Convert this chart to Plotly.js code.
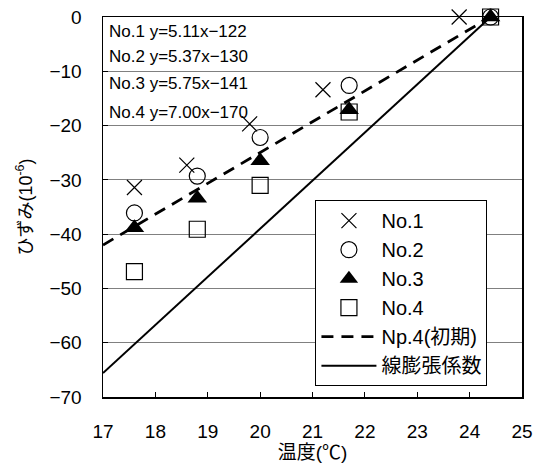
<!DOCTYPE html>
<html>
<head>
<meta charset="utf-8">
<script src="https://cdn.plot.ly/plotly-3.0.1.min.js"></script>
<style>html,body{margin:0;padding:0;background:#fff;}#chart{width:533px;height:463px;}</style>
</head>
<body>
<div id="chart"></div>
<script>
// Data
const no1X = [17.6, 18.6, 19.8, 21.2, 23.8];
const no1Y = [-31.4, -27.3, -19.7, -13.4, 0];
const no2X = [17.6, 18.8, 20.0, 21.7, 24.4];
const no2Y = [-36.1, -29.3, -22.2, -12.6, 0];
const no3X = [17.6, 18.8, 20.0, 21.7, 24.4];
const no3Y = [-38.8, -33.4, -26.5, -17.1, 0];
const no4X = [17.6, 18.8, 20.0, 21.7, 24.4];
const no4Y = [-46.9, -39.1, -31.0, -17.5, 0];
const np4X = [17.0, 24.4];
const np4Y = [-42.0, 0];
const expX = [17.0, 24.4];
const expY = [-65.6, 0];
const seriesNames = ['No.1', 'No.2', 'No.3', 'No.4', 'Np.4(初期)', '線膨張係数'];
const equations = ['No.1 y=5.11x−122', 'No.2 y=5.37x−130', 'No.3 y=5.75x−141', 'No.4 y=7.00x−170'];
const xTicks = [17, 18, 19, 20, 21, 22, 23, 24, 25];
const yTicks = [0, -10, -20, -30, -40, -50, -60, -70];

const FONT = '"Liberation Sans", Arial, "Noto Sans CJK JP", sans-serif';

const traces = [
  {x: no1X, y: no1Y, name: seriesNames[0], mode: 'markers', legendgroup: 'a', legendrank: 1, cliponaxis: false,
   marker: {symbol: 'x-thin-open', size: 15, color: '#000', line: {width: 1.2, color: '#000'}}},
  {x: no2X, y: no2Y, name: seriesNames[1], mode: 'markers', legendgroup: 'b', legendrank: 2, cliponaxis: false,
   marker: {symbol: 'circle-open', size: 16, color: '#000', line: {width: 1.2, color: '#000'}}},
  {x: no4X, y: no4Y, name: seriesNames[3], mode: 'markers', legendgroup: 'd', legendrank: 4, cliponaxis: false,
   marker: {symbol: 'square-open', size: 16, color: '#000', line: {width: 1.2, color: '#000'}}},
  {x: np4X, y: np4Y, name: seriesNames[4], mode: 'lines', legendgroup: 'e', legendrank: 5,
   line: {color: '#000', width: 2.8, dash: '12px,8px'}},
  {x: expX, y: expY, name: seriesNames[5], mode: 'lines', legendgroup: 'f', legendrank: 6,
   line: {color: '#000', width: 2}},
  {x: no3X, y: no3Y, name: seriesNames[2], mode: 'markers', legendgroup: 'c', legendrank: 3, cliponaxis: false,
   marker: {symbol: 'triangle-up', size: 17, color: '#000', line: {width: 0}}}
];

const annotations = equations.map((t, i) => ({
  text: t, xref: 'paper', yref: 'paper', x: 0.01, y: [0.961, 0.895, 0.826, 0.75][i],
  xanchor: 'left', yanchor: 'middle', showarrow: false,
  font: {family: FONT, size: 17, color: '#000'}
}));

const layout = {
  width: 533, height: 463,
  margin: {l: 103, r: 11, t: 17, b: 66},
  paper_bgcolor: '#fff', plot_bgcolor: '#fff',
  font: {family: FONT, color: '#000'},
  showlegend: true,
  legend: {
    x: 0.507, y: 0.518, xanchor: 'left', yanchor: 'top',
    bgcolor: '#fff', bordercolor: '#000', borderwidth: 1,
    font: {family: FONT, size: 20, color: '#000'},
    tracegroupgap: 3, traceorder: 'normal', itemwidth: 55
  },
  xaxis: {
    range: [17, 25], tickvals: xTicks, ticktext: xTicks.map(String),
    showgrid: false, zeroline: false, showline: true, mirror: true,
    linecolor: '#000', linewidth: 1.5, ticks: 'inside', ticklen: 5, tickcolor: '#000',
    tickfont: {family: FONT, size: 19, color: '#000'}, ticklabelstandoff: 17,
    title: {text: '温度(℃)', font: {family: FONT, size: 19, color: '#000'}, standoff: 7}
  },
  yaxis: {
    range: [-70, 0], tickvals: yTicks, ticktext: yTicks.map(v => v < 0 ? '−' + (-v) : String(v)),
    showgrid: true, gridcolor: '#808080', gridwidth: 1, zeroline: false,
    showline: true, mirror: true, linecolor: '#000', linewidth: 1.5,
    ticks: 'inside', ticklen: 5, tickcolor: '#000',
    tickfont: {family: FONT, size: 19, color: '#000'}, ticklabelstandoff: 16,
    title: {text: 'ひずみ(10<sup>-6</sup>)', font: {family: FONT, size: 18, color: '#000'}, standoff: 12}
  },
  annotations: annotations
};

Plotly.newPlot('chart', traces, layout, {displayModeBar: false, staticPlot: true});
</script>
</body>
</html>
